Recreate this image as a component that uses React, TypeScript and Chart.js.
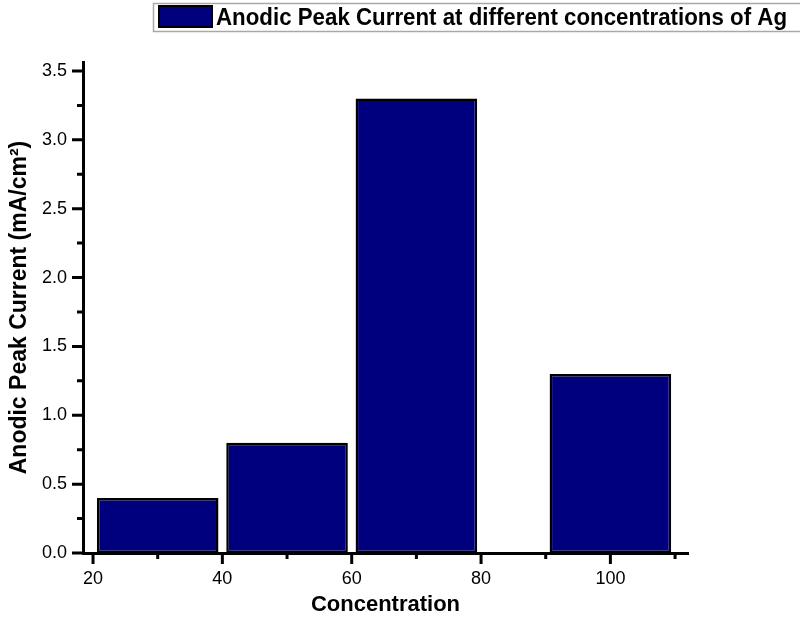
import React, { useEffect, useRef } from 'react';
import { Chart, registerables } from 'chart.js';

Chart.register(...registerables);

const concentrations = [30, 50, 70, 100];
const peakCurrents = [0.4, 0.8, 3.3, 1.3];
const xMajorTicks = [20, 40, 60, 80, 100];
const xMinorTicks = [30, 50, 70, 90, 110];
const yMajorTicks = [0, 0.5, 1.0, 1.5, 2.0, 2.5, 3.0, 3.5];
const yMinorTicks = [0.25, 0.75, 1.25, 1.75, 2.25, 2.75, 3.25];
const seriesLabel = 'Anodic Peak Current at different concentrations of Ag';
const xTitle = 'Concentration';
const yTitle = 'Anodic Peak Current (mA/cm²)';

const BAR_COLOR = '#00007f';
const FONT = '"Liberation Sans", Arial, sans-serif';

const tickPlugin = {
  id: 'originTicks',
  afterDraw(chart: any) {
    const ctx = chart.ctx;
    const xs = chart.scales.x;
    const ys = chart.scales.y;
    const area = chart.chartArea;
    ctx.save();
    ctx.strokeStyle = '#000';
    ctx.lineWidth = 3;
    ctx.lineCap = 'butt';
    const axisX = area.left;
    const axisY = area.bottom;
    ctx.beginPath();
    yMajorTicks.forEach((v) => {
      const p = ys.getPixelForValue(v);
      ctx.moveTo(axisX - 11, p);
      ctx.lineTo(axisX, p);
    });
    yMinorTicks.forEach((v) => {
      const p = ys.getPixelForValue(v);
      ctx.moveTo(axisX - 6, p);
      ctx.lineTo(axisX, p);
    });
    xMajorTicks.forEach((v) => {
      const p = xs.getPixelForValue(v);
      ctx.moveTo(p, axisY);
      ctx.lineTo(p, axisY + 11);
    });
    xMinorTicks.forEach((v) => {
      const p = xs.getPixelForValue(v);
      ctx.moveTo(p, axisY);
      ctx.lineTo(p, axisY + 6);
    });
    ctx.stroke();

    // legend
    const ds = chart.data.datasets[0];
    ctx.fillStyle = '#fff';
    ctx.fillRect(153, 3, 650, 28);
    ctx.strokeStyle = '#a8a8a8';
    ctx.lineWidth = 1.5;
    ctx.strokeRect(153.5, 3.5, 650, 28);
    ctx.fillStyle = ds.backgroundColor;
    ctx.fillRect(159, 6, 53, 21);
    ctx.strokeStyle = '#000';
    ctx.lineWidth = 2;
    ctx.strokeRect(159, 6, 53, 21);
    ctx.font = 'bold 24px "Liberation Sans Narrow", "Liberation Sans", Arial, sans-serif';
    ctx.fillStyle = '#000';
    ctx.textBaseline = 'middle';
    ctx.textAlign = 'left';
    const w = ctx.measureText(ds.label).width;
    const target = 571;
    ctx.translate(216, 18);
    ctx.scale(target / w, 1);
    ctx.fillText(ds.label, 0, 0);
    ctx.restore();
  },
};

export default function App() {
  const ref = useRef<HTMLCanvasElement | null>(null);
  useEffect(() => {
    document.body.style.margin = '0';
    const canvas = ref.current!;
    const chart = new Chart(canvas, {
      type: 'bar',
      data: {
        datasets: [
          {
            label: seriesLabel,
            data: concentrations.map((c, i) => ({ x: c, y: peakCurrents[i] })),
            backgroundColor: BAR_COLOR,
            borderColor: '#000',
            borderWidth: 2.5,
            borderSkipped: false,
            categoryPercentage: 1,
            barPercentage: 0.94,
          },
        ],
      },
      plugins: [tickPlugin],
      options: {
        animation: false,
        responsive: false,
        maintainAspectRatio: false,
        layout: { padding: { left: 0, top: 62, right: 112, bottom: 0 } },
        plugins: {
          legend: { display: false },
          tooltip: { enabled: false },
        },
        scales: {
          x: {
            type: 'linear',
            min: 18.45,
            max: 112,
            offset: false,
            grid: { display: false, drawTicks: false },
            border: { display: true, color: '#000', width: 3 },
            afterBuildTicks: (s: any) => {
              s.ticks = xMajorTicks.map((v) => ({ value: v }));
            },
            afterFit: (s: any) => {
              s.height = 69;
            },
            ticks: {
              padding: 15,
              color: '#000',
              font: { family: FONT, size: 18 },
              maxRotation: 0,
              callback: (v: any) => String(v),
            },
            title: {
              display: true,
              text: xTitle,
              color: '#000',
              font: { family: FONT, size: 22, weight: 'bold' },
              padding: { top: 0, bottom: 4 },
            },
          },
          y: {
            type: 'linear',
            min: 0,
            max: 3.565,
            grid: { display: false, drawTicks: false },
            border: { display: true, color: '#000', width: 3 },
            afterBuildTicks: (s: any) => {
              s.ticks = yMajorTicks.map((v) => ({ value: v }));
            },
            afterFit: (s: any) => {
              s.width = 83;
            },
            ticks: {
              padding: 16,
              color: '#000',
              font: { family: FONT, size: 18 },
              callback: (v: any) => Number(v).toFixed(1),
            },
            title: {
              display: true,
              text: yTitle,
              color: '#000',
              font: { family: FONT, size: 23, weight: 'bold' },
              padding: { top: 6, bottom: 0 },
            },
          },
        },
      },
    } as any);
    return () => chart.destroy();
  }, []);
  return (
    <div style={{ width: 800, height: 622, background: '#fff' }}>
      <canvas ref={ref} width={800} height={622} style={{ display: 'block' }} />
    </div>
  );
}
